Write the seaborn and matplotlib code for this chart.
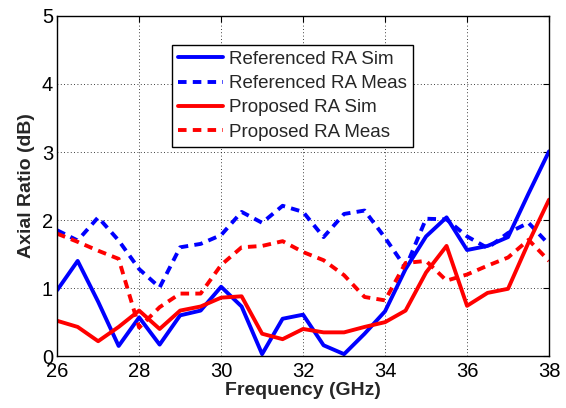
import numpy as np
import pandas as pd
import matplotlib
matplotlib.use("Agg")
import matplotlib.pyplot as plt
import seaborn as sns

freq = [26, 26.5, 27, 27.5, 28, 28.5, 29, 29.5, 30, 30.5, 31, 31.5, 32,
        32.5, 33, 33.5, 34, 34.5, 35, 35.5, 36, 36.5, 37, 37.5, 38]
ref_sim = [0.97, 1.40, 0.80, 0.15, 0.57, 0.17, 0.60, 0.67, 1.02, 0.73, 0.03, 0.55, 0.61,
           0.16, 0.03, 0.33, 0.66, 1.28, 1.76, 2.04, 1.56, 1.62, 1.75, 2.39, 3.01]
ref_meas = [1.85, 1.70, 2.04, 1.70, 1.28, 1.01, 1.60, 1.65, 1.78, 2.12, 1.96, 2.21, 2.12,
            1.75, 2.09, 2.14, 1.74, 1.30, 2.02, 2.01, 1.76, 1.59, 1.81, 1.96, 1.64]
prop_sim = [0.52, 0.43, 0.22, 0.43, 0.67, 0.40, 0.67, 0.73, 0.86, 0.88, 0.33, 0.25, 0.40,
            0.35, 0.35, 0.43, 0.50, 0.67, 1.23, 1.62, 0.74, 0.93, 0.99, 1.67, 2.30]
prop_meas = [1.80, 1.68, 1.55, 1.43, 0.42, 0.72, 0.92, 0.92, 1.34, 1.60, 1.62, 1.69, 1.53,
             1.41, 1.19, 0.87, 0.82, 1.37, 1.40, 1.11, 1.20, 1.33, 1.45, 1.71, 1.40]
labels = ["Referenced RA Sim", "Referenced RA Meas", "Proposed RA Sim", "Proposed RA Meas"]

sns.set_style("white")
plt.rcParams['font.family'] = ['Liberation Sans', 'DejaVu Sans']

df = pd.DataFrame({
    "Frequency": freq * 4,
    "AR": ref_sim + ref_meas + prop_sim + prop_meas,
    "Series": sum([[l] * len(freq) for l in labels], []),
})

fig = plt.figure(figsize=(5.66, 4.08), dpi=100)
ax = fig.add_axes([0.101, 0.127, 0.869, 0.834])

palette = {labels[0]: "#0000ff", labels[1]: "#0000ff", labels[2]: "#ff0000", labels[3]: "#ff0000"}
dashes = {labels[0]: "", labels[1]: (2.2, 1.6), labels[2]: "", labels[3]: (2.2, 1.6)}
sns.lineplot(data=df, x="Frequency", y="AR", hue="Series", style="Series",
             palette=palette, dashes=dashes, linewidth=2.8, ax=ax,
             hue_order=labels, style_order=labels, legend=True)

ax.set_xlim(26, 38)
ax.set_ylim(0, 5)
ax.set_xticks([26, 28, 30, 32, 34, 36, 38])
ax.set_yticks([0, 1, 2, 3, 4, 5])
ax.grid(True, color="black", linestyle=(0, (1, 3)), linewidth=0.6)
ax.tick_params(direction="in", length=4, labelsize=14.5, top=True, right=True,
               colors="black", width=0.8)
ax.tick_params(axis="x", pad=4)
ax.tick_params(axis="y", pad=3)
for s in ax.spines.values():
    s.set_color("black")
    s.set_linewidth(1.0)
ax.set_xlabel("Frequency (GHz)", fontsize=14, fontweight="bold", labelpad=1)
ax.set_ylabel("Axial Ratio (dB)", fontsize=14, fontweight="bold", labelpad=5)

leg = ax.legend(loc="upper left", bbox_to_anchor=(0.234, 0.915), fontsize=13.5,
                frameon=True, fancybox=False, edgecolor="black", framealpha=1,
                handlelength=2.4, handletextpad=0.3, borderpad=0.32, labelspacing=0.38,
                borderaxespad=0)
leg.get_frame().set_linewidth(1.0)
for h in leg.get_lines():
    h.set_linewidth(2.8)

fig.savefig("out.png", dpi=100)
